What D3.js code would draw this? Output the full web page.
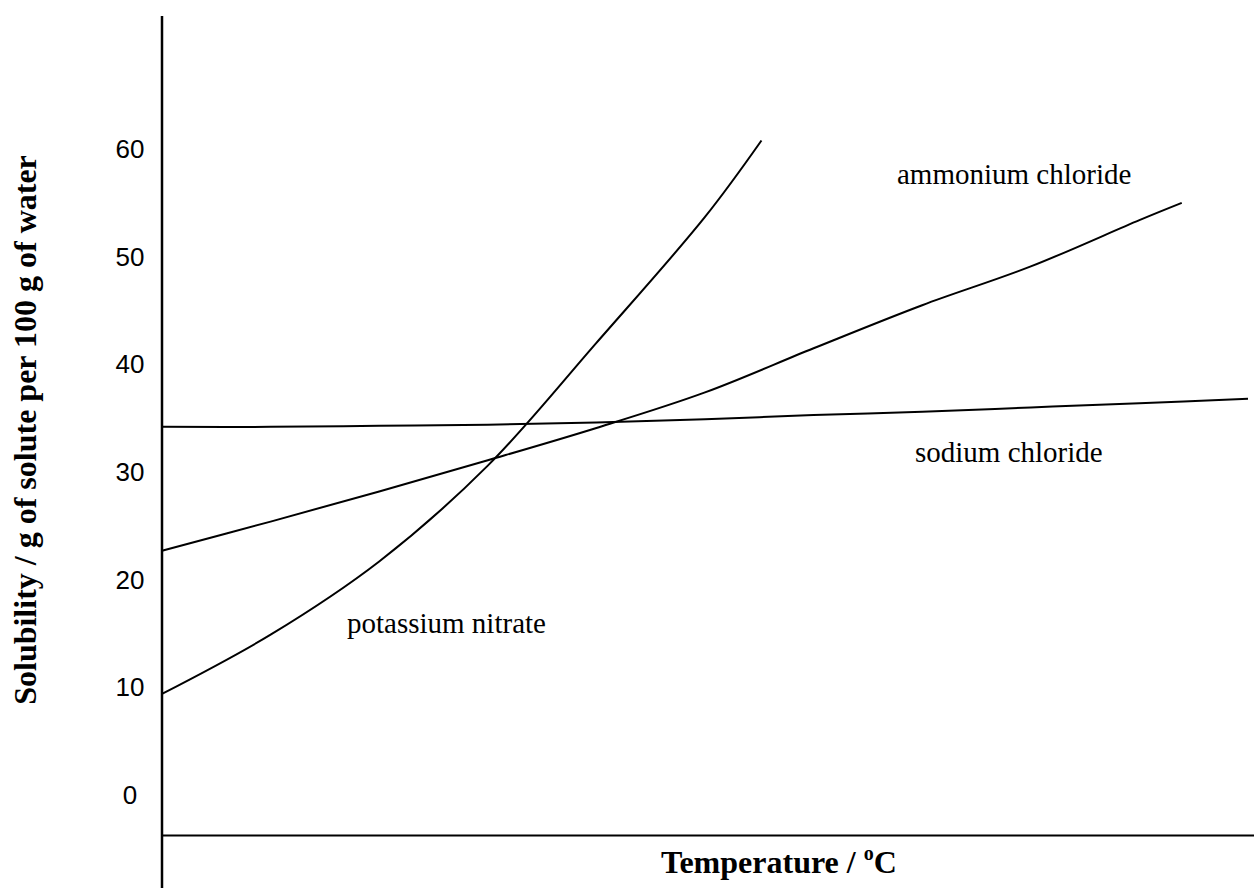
<!DOCTYPE html>
<html><head><meta charset="utf-8">
<script src="https://cdn.jsdelivr.net/npm/d3@7"></script>
<style>html,body{margin:0;padding:0;background:#fff;} svg{display:block;}</style>
</head><body>
<svg id="chart" width="1254" height="888"></svg>
<script>
// ---- data ----
const yTickValues = [0, 10, 20, 30, 40, 50, 60];
const seriesNames = ["sodium chloride", "ammonium chloride", "potassium nitrate"];
const naclTemp  = [0, 10, 20, 30, 40, 50, 60, 70, 80, 90, 100];
const naclSol   = [34.1, 34.1, 34.2, 34.3, 34.5, 34.8, 35.2, 35.5, 35.9, 36.3, 36.7];
const nh4clTemp = [0, 10, 20, 30, 40, 50, 60, 70, 80, 90, 93.9];
const nh4clSol  = [22.6, 25.3, 28.1, 31.0, 34.0, 37.3, 41.4, 45.4, 49.0, 53.3, 54.9];
const kno3Temp  = [0, 10, 20, 30, 40, 50, 55.2];
const kno3Sol   = [9.3, 14.8, 21.6, 30.5, 41.9, 53.6, 60.7];
const xLabel = "Temperature / ";
const yLabel = "Solubility / g of solute per 100 g of water";

// ---- layout ----
const svg = d3.select("#chart");
const x = d3.scaleLinear().domain([0, 100]).range([162, 1248]);
const y = d3.scaleLinear().domain([0, 60]).range([794, 148]);

// axes lines (frame)
svg.append("line").attr("x1", 162).attr("x2", 162).attr("y1", 16).attr("y2", 888)
  .attr("stroke", "#000").attr("stroke-width", 2.5);
svg.append("line").attr("x1", 161).attr("x2", 1254).attr("y1", 835.5).attr("y2", 835.5)
  .attr("stroke", "#000").attr("stroke-width", 2);

// y tick labels via axis
const yAxis = d3.axisLeft(y).tickValues(yTickValues).tickSize(0).tickFormat(d3.format("d"));
const gy = svg.append("g").attr("transform", "translate(162,0)").call(yAxis);
gy.select(".domain").remove();
gy.selectAll("text")
  .attr("x", -32).attr("text-anchor", "middle")
  .attr("dy", "0.36em")
  .style("font-family", "'Liberation Sans', Arial, sans-serif")
  .style("font-size", "26px").attr("fill", "#000");

// curves
const line = d3.line().x(d => x(d.t)).y(d => y(d.s)).curve(d3.curveCatmullRom.alpha(0.5));
const series = [
  naclTemp.map((t, i) => ({t, s: naclSol[i]})),
  nh4clTemp.map((t, i) => ({t, s: nh4clSol[i]})),
  kno3Temp.map((t, i) => ({t, s: kno3Sol[i]}))
];
svg.selectAll("path.curve").data(series).enter().append("path")
  .attr("class", "curve").attr("d", line)
  .attr("fill", "none").attr("stroke", "#000").attr("stroke-width", 2);

// curve labels
const labelPos = [[915, 462], [897, 184], [347, 633]];
svg.selectAll("text.lab").data(seriesNames).enter().append("text")
  .attr("class", "lab")
  .attr("x", (d, i) => labelPos[i][0]).attr("y", (d, i) => labelPos[i][1])
  .style("font-family", "'Liberation Serif', 'Times New Roman', serif")
  .style("font-size", "29px").attr("fill", "#000")
  .text(d => d);

// x axis title
const xt = svg.append("text").attr("x", 661).attr("y", 873)
  .style("font-family", "'Liberation Serif', 'Times New Roman', serif")
  .style("font-size", "32px").style("font-weight", "bold").attr("fill", "#000");
xt.append("tspan").text(xLabel);
xt.append("tspan").attr("dy", -13).style("font-size", "20px").text("o");
xt.append("tspan").attr("dy", 13).text("C");

// y axis title
svg.append("text").attr("transform", "translate(36,430) rotate(-90)")
  .attr("text-anchor", "middle")
  .style("font-family", "'Liberation Serif', 'Times New Roman', serif")
  .style("font-size", "32px").style("font-weight", "bold").attr("fill", "#000")
  .text(yLabel);
</script>
</body></html>
